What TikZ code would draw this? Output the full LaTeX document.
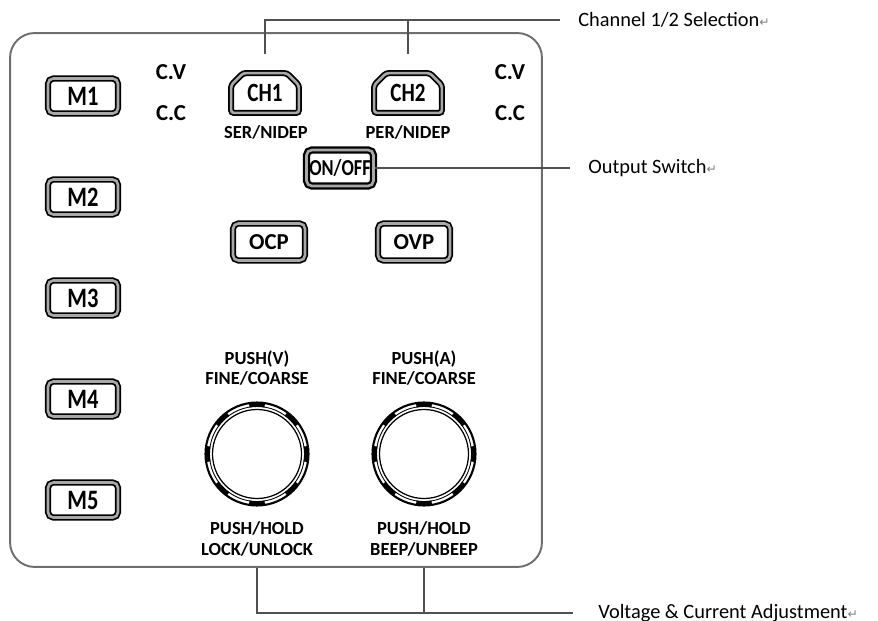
\documentclass[tikz,border=0pt]{standalone}
\usepackage{fontspec}
\setmainfont{Carlito}
\newfontfamily\narrowfont[FakeStretch=0.8]{Carlito}
\newfontfamily\symbfont{DejaVu Sans}
\usetikzlibrary{calc}
\definecolor{PanelGray} {HTML}{6E6E6E}
\definecolor{LeadGray}  {HTML}{505050}
\definecolor{BezelGray} {HTML}{A8A8A8}
\newcommand{\retmark}{{\symbfont\fontsize{7}{7}\selectfont\textcolor{gray}{↵}}}

\tikzset{
  panelbox/.style={draw=PanelGray,line width=1.1pt,rounded corners=14pt,minimum width=10.64cm,minimum height=10.68cm},
  bezel/.style={draw=black,line width=1pt,double=BezelGray,double distance=1.5pt,rounded corners=3pt},
  mbtn/.style={bezel,minimum width=1.4cm,minimum height=0.7cm,inner sep=0pt,font=\narrowfont\bfseries\fontsize{16}{16}\selectfont},
  chbtn/.style={minimum width=1.34cm,minimum height=0.78cm,inner sep=0pt,font=\narrowfont\bfseries\fontsize{15}{15}\selectfont},
  onbtn/.style={bezel,line width=1.3pt,minimum width=1.34cm,minimum height=0.72cm,inner sep=0pt,font=\narrowfont\bfseries\fontsize{13}{13}\selectfont},
  protbtn/.style={bezel,minimum width=1.44cm,minimum height=0.74cm,inner sep=0pt,font=\bfseries\fontsize{13}{13}\selectfont},
  knob/.style={circle,draw=black,line width=1.2pt,minimum size=2.06cm,inner sep=0pt},
  mode/.style={font=\bfseries\fontsize{13}{13}\selectfont,inner sep=0pt},
  sublabel/.style={font=\bfseries\fontsize{10.5}{11.5}\selectfont,inner sep=0pt,align=center},
  callout/.style={font=\fontsize{11.6}{12}\selectfont,inner sep=0pt,anchor=west},
  lead/.style={draw=LeadGray,line width=0.8pt}
}

\begin{document}
\begin{tikzpicture}[x=0.02cm,y=-0.02cm]
    \useasboundingbox (0,0) rectangle (878,621);

    % Front panel
    \node[panelbox] (panel) at (276,300) {};

    % Memory keys
    \foreach \i/\y in {1/96,2/197,3/298,4/399,5/500}
      \node[mbtn] (m\i) at (83,\y) {M\i};

    % Mode indicators
    \node[mode] (cv1) at (171,72)  {C.V};
    \node[mode] (cc1) at (171,113) {C.C};
    \node[mode] (cv2) at (510,72)  {C.V};
    \node[mode] (cc2) at (510,113) {C.C};

    % Channel keys
    \node[chbtn] (ch1) at (265,93) {CH1};
    \node[chbtn] (ch2) at (408,93) {CH2};
    \foreach \b in {ch1,ch2}
      \draw[bezel,rounded corners=1.5pt] (\b.south west) -- ($(\b.north west)+(0,12)$) -- ($(\b.north west)+(12,0)$)
        -- ($(\b.north east)+(-12,0)$) -- ($(\b.north east)+(0,12)$) -- (\b.south east) -- cycle;
    \node[sublabel] (ser) at (266,132) {SER/NIDEP};
    \node[sublabel] (per) at (408,132) {PER/NIDEP};

    % Output and protection keys
    \node[onbtn]   (onoff) at (340,168) {ON/OFF};
    \node[protbtn] (ocp)   at (269,242) {OCP};
    \node[protbtn] (ovp)   at (414,242) {OVP};

    % Encoders
    \node[knob] (vknob) at (257,454) {};
    \node[knob] (aknob) at (424,454) {};
    \foreach \k in {vknob,aknob}{
      \draw[line width=0.5pt] (\k) circle[radius=47.5];
      \draw[line width=0.7pt] (\k) circle[radius=44.5];
      \foreach \a in {0,45,...,315}
        \draw[line width=2.6pt] ($(\k)+(\a-9:49.5)$) arc[start angle=\a-9,end angle=\a+9,radius=49.5];
    }
    \node[sublabel] (vtop) at (257,368) {PUSH(V)\\FINE/COARSE};
    \node[sublabel] (atop) at (424,368) {PUSH(A)\\FINE/COARSE};
    \node[sublabel] (vbot) at (257,539) {PUSH/HOLD\\LOCK/UNLOCK};
    \node[sublabel] (abot) at (424,539) {PUSH/HOLD\\BEEP/UNBEEP};

    % Call-outs
    \node[callout] (selText) at (578,20)  {Channel 1/2 Selection\retmark};
    \node[callout] (outText) at (588,168) {Output Switch\retmark};
    \node[callout] (adjText) at (598,613) {Voltage \& Current Adjustment\retmark};

    \draw[lead] ([yshift=11pt]ch1.north) |- ([xshift=-10pt]selText.west);
    \draw[lead] ([yshift=11pt]ch2.north) -- (ch2.north |- selText.west);
    \draw[lead] (onoff.east) -- ([xshift=-10pt]outText.west);
    \draw[lead] (vknob |- panel.south) |- ([xshift=-14pt]adjText.west);
    \draw[lead] (aknob |- panel.south) -- (aknob |- adjText.west);
  \end{tikzpicture}
\end{document}
